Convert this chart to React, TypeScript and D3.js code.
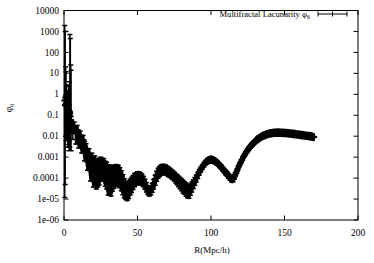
import React from 'react';
import * as d3 from 'd3';

// early points (R < 5) with asymmetric, very large error bars
const rEarly = [0.5, 0.8, 1.1, 1.4, 1.7, 2.0, 2.3, 2.6, 2.9, 3.2, 3.5, 3.8, 4.0, 4.3, 4.6, 4.8];
const phiEarly = [0.5, 0.3, 0.7, 0.35, 0.9, 0.25, 0.45, 0.12, 0.3, 0.18, 0.08, 0.15, 0.12, 0.09, 0.06, 0.05];
const lowEarly = [1.2e-5, 5e-5, 0.01, 0.006, 0.02, 0.008, 0.01, 0.003, 0.006, 0.004, 0.002, 0.003, 0.003, 0.002, 0.002, 0.002];
const highEarly = [1900, 1000, 20, 12, 2.8, 1.3, 1.5, 0.6, 1.0, 2.4, 0.4, 4, 720, 460, 25, 14];

// main series, R = 5 .. 170 in steps of 1
const rMain = d3.range(5, 171);
const phiMain = [
  0.038, 0.020, 0.031, 0.014, 0.020, 0.0092, 0.011, 0.0053, 0.0066, 0.0031,
  0.0025, 0.0013, 0.0014, 7.3e-4, 8.2e-4, 4.7e-4, 5.9e-4, 3.8e-4, 3.8e-4, 4.7e-4,
  5.3e-4, 4.2e-4, 4.7e-4, 3.4e-4, 3.0e-4, 1.95e-4, 2.2e-4, 1.75e-4, 1.95e-4, 2.2e-4,
  2.4e-4, 2.4e-4, 2.2e-4, 1.75e-4, 1.26e-4, 8.1e-5, 5.2e-5, 3.8e-5, 3.4e-5, 4.2e-5,
  5.2e-5, 6.5e-5, 8.1e-5, 1.01e-4, 1.13e-4, 1.26e-4, 1.26e-4, 1.13e-4, 1.01e-4, 8.1e-5,
  5.8e-5, 4.2e-5, 3.0e-5, 2.4e-5, 2.7e-5, 3.8e-5, 5.8e-5, 9.1e-5, 1.41e-4, 1.95e-4,
  2.4e-4, 2.85e-4, 3.0e-4, 3.0e-4, 2.85e-4, 2.55e-4, 2.3e-4, 2.05e-4, 1.75e-4, 1.57e-4,
  1.33e-4, 1.13e-4, 9.6e-5, 8.1e-5, 6.9e-5, 5.8e-5, 4.9e-5, 4.2e-5, 3.6e-5, 3.0e-5,
  2.7e-5, 3.4e-5, 4.4e-5, 5.8e-5, 7.7e-5, 1.01e-4, 1.41e-4, 1.95e-4, 2.55e-4, 3.4e-4,
  4.2e-4, 5.3e-4, 6.2e-4, 6.9e-4, 7.3e-4, 7.7e-4, 7.4e-4, 6.9e-4, 6.2e-4, 5.6e-4,
  4.7e-4, 4.0e-4, 3.4e-4, 2.7e-4, 2.3e-4, 1.85e-4, 1.57e-4, 1.26e-4, 1.07e-4, 9.1e-5,
  9.1e-5, 1.19e-4, 1.75e-4, 2.55e-4, 3.8e-4, 5.3e-4, 7.3e-4, 1.02e-3, 1.34e-3, 1.76e-3,
  2.19e-3, 2.73e-3, 3.4e-3, 4.0e-3, 4.73e-3, 5.6e-3, 6.6e-3, 7.35e-3, 8.2e-3, 9.2e-3,
  0.0102, 0.0108, 0.0114, 0.0123, 0.0130, 0.0135, 0.0139, 0.0142, 0.0145, 0.0147,
  0.0148, 0.0148, 0.0147, 0.0145, 0.0144, 0.0142, 0.0141, 0.0139, 0.0136, 0.0135,
  0.0132, 0.0129, 0.0126, 0.0123, 0.0121, 0.0118, 0.0115, 0.0113, 0.0110, 0.0108,
  0.0105, 0.0103, 0.0101, 0.0098, 0.0094, 0.0092,
];
// relative error (sigma / phi)
const relErrMain = [
  0.6, 0.65, 0.55, 0.7, 0.6, 0.7, 0.6, 0.7, 0.65, 0.78,
  0.75, 0.82, 0.8, 0.9, 0.88, 0.92, 0.9, 0.92, 0.9, 0.9,
  0.85, 0.82, 0.85, 0.88, 0.9, 0.92, 0.9, 0.92, 0.88, 0.85,
  0.82, 0.82, 0.82, 0.8, 0.8, 0.8, 0.78, 0.75, 0.75, 0.75,
  0.7, 0.68, 0.65, 0.62, 0.6, 0.6, 0.6, 0.58, 0.55, 0.52,
  0.5, 0.48, 0.45, 0.42, 0.42, 0.45, 0.48, 0.5, 0.5, 0.5,
  0.5, 0.5, 0.5, 0.5, 0.5, 0.48, 0.48, 0.46, 0.46, 0.46,
  0.46, 0.48, 0.5, 0.52, 0.55, 0.57, 0.6, 0.6, 0.62, 0.62,
  0.6, 0.55, 0.5, 0.45, 0.4, 0.36, 0.32, 0.28, 0.25, 0.22,
  0.2, 0.18, 0.16, 0.15, 0.15, 0.15, 0.15, 0.15, 0.16, 0.17,
  0.18, 0.19, 0.2, 0.21, 0.22, 0.23, 0.24, 0.25, 0.26, 0.27,
  0.26, 0.24, 0.2, 0.17, 0.15, 0.13, 0.12, 0.11, 0.1, 0.09,
  0.08, 0.08, 0.07, 0.07, 0.06, 0.06, 0.06, 0.05, 0.05, 0.05,
  0.05, 0.05, 0.05, 0.05, 0.05, 0.05, 0.05, 0.05, 0.05, 0.05,
  0.05, 0.05, 0.05, 0.05, 0.05, 0.05, 0.05, 0.05, 0.05, 0.05,
  0.05, 0.05, 0.05, 0.05, 0.05, 0.05, 0.05, 0.05, 0.05, 0.05,
  0.05, 0.05, 0.05, 0.05, 0.05, 0.05,
];

const xTicks = [0, 50, 100, 150, 200];
const yTicks = [1e4, 1e3, 100, 10, 1, 0.1, 0.01, 0.001, 1e-4, 1e-5, 1e-6];
const yTickLabels = ['10000', '1000', '100', '10', '1', '0.1', '0.01', '0.001', '0.0001', '1e-05', '1e-06'];

const W = 374, H = 263;
const left = 64, right = 358, top = 10.5, bottom = 220;
const font = '"Liberation Serif", "DejaVu Serif", serif';

export default function App() {
  const x = d3.scaleLinear().domain([0, 200]).range([left, right]);
  const y = d3.scaleLog().domain([1e-6, 1e4]).range([bottom, top]).clamp(true);

  const early = rEarly.map((r, i) => ({ r, v: phiEarly[i], lo: lowEarly[i], hi: highEarly[i] }));
  const main = rMain.map((r, i) => {
    const v = phiMain[i];
    const s = v * relErrMain[i];
    return { r, v, lo: v - s, hi: v + s };
  });
  const pts = [...early, ...main];

  const cap = 2.5, mk = 3.3;
  const bars = d3.path();
  const marks = d3.path();
  pts.forEach(d => {
    const px = x(d.r);
    const yl = d.lo > 0 ? y(d.lo) : bottom;
    const yh = y(d.hi);
    const yv = y(d.v);
    bars.moveTo(px, yl); bars.lineTo(px, yh);
    if (yl < bottom) { bars.moveTo(px - cap, yl); bars.lineTo(px + cap, yl); }
    if (yh > top) { bars.moveTo(px - cap, yh); bars.lineTo(px + cap, yh); }
    marks.moveTo(px - mk, yv); marks.lineTo(px + mk, yv);
    marks.moveTo(px, yv - mk); marks.lineTo(px, yv + mk);
  });

  // the densely packed bars of the main series merge into a solid band
  const band = d3.area<{ r: number; v: number; lo: number; hi: number }>()
    .x(d => x(d.r))
    .y0(d => Math.max(y(d.lo), y(d.v) + mk))
    .y1(d => Math.min(y(d.hi), y(d.v) - mk));

  // legend sample
  const lx0 = 318, lx1 = 347, ly = 14;
  const lp = d3.path();
  lp.moveTo(lx0, ly); lp.lineTo(lx1, ly);
  lp.moveTo(lx0, ly - cap); lp.lineTo(lx0, ly + cap);
  lp.moveTo(lx1, ly - cap); lp.lineTo(lx1, ly + cap);
  const lm = (lx0 + lx1) / 2;
  lp.moveTo(lm, ly - 2.5); lp.lineTo(lm, ly + 2.5);

  const tk = 4.5;

  return (
    <svg width={W} height={H} style={{ position: 'absolute', left: 0, top: 0, background: '#fff' }}
      fontFamily={font} fontSize={9.5}>
      <rect x={0} y={0} width={W} height={H} fill="#fff" />
      {/* ticks */}
      <g stroke="#000" strokeWidth={1}>
        {xTicks.map(t => (
          <g key={'x' + t}>
            <line x1={x(t)} x2={x(t)} y1={bottom} y2={bottom - tk} />
            <line x1={x(t)} x2={x(t)} y1={top} y2={top + tk} />
          </g>
        ))}
        {yTicks.map(t => (
          <g key={'y' + t}>
            <line x1={left} x2={left + tk} y1={y(t)} y2={y(t)} />
            <line x1={right} x2={right - tk} y1={y(t)} y2={y(t)} />
          </g>
        ))}
      </g>
      {xTicks.map(t => (
        <text key={'xl' + t} x={x(t)} y={235.5} textAnchor="middle">{t}</text>
      ))}
      {yTicks.map((t, i) => (
        <text key={'yl' + t} x={59} y={y(t)} dy="0.33em" textAnchor="end">{yTickLabels[i]}</text>
      ))}
      {/* data */}
      <path d={band(main.slice(3)) ?? ''} fill="#000" stroke="#000" strokeWidth={2} strokeLinejoin="round" />
      <path d={bars.toString()} fill="none" stroke="#000" strokeWidth={1.5} />
      <path d={marks.toString()} fill="none" stroke="#000" strokeWidth={2} />
      {/* frame */}
      <rect x={left} y={top} width={right - left} height={bottom - top} fill="none" stroke="#000" strokeWidth={1} />
      {/* labels */}
      <text x={212} y={253} textAnchor="middle" fontSize={9}>R(Mpc/h)</text>
      <text transform="translate(12,108) rotate(-90)" textAnchor="middle">
        φ<tspan fontSize={6.5} dy={2}>6</tspan>
      </text>
      {/* legend */}
      <text x={310} y={17} textAnchor="end" fontSize={8.6}>
        Multifractal Lacunarity φ<tspan fontSize={6} dy={2}>6</tspan>
      </text>
      <path d={lp.toString()} fill="none" stroke="#000" strokeWidth={1} />
    </svg>
  );
}
